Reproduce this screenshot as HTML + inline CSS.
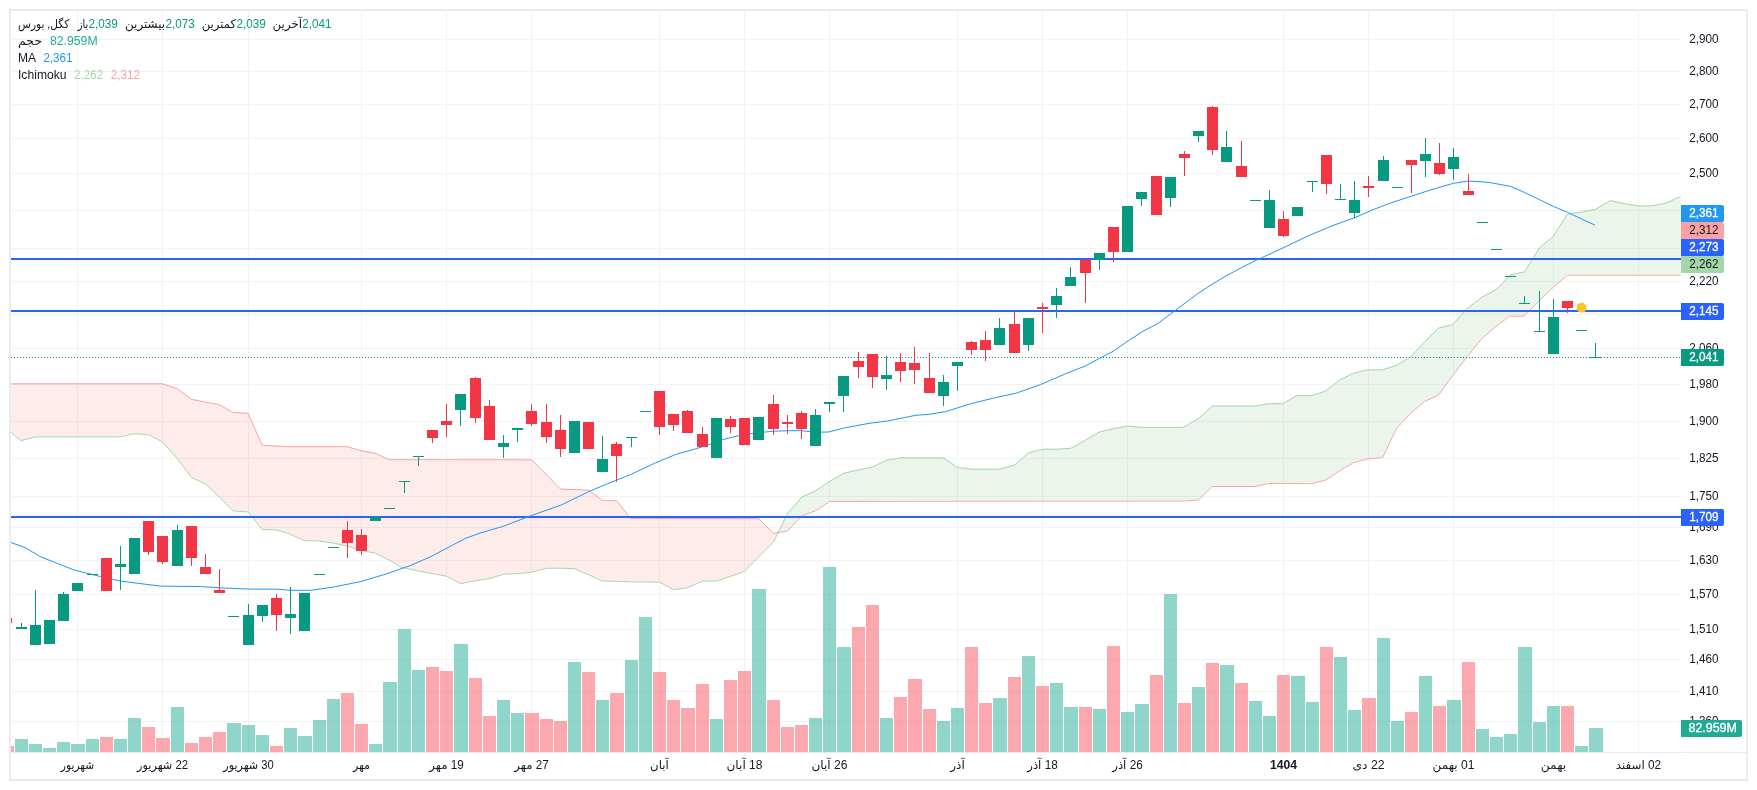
<!DOCTYPE html>
<html lang="fa"><head><meta charset="utf-8"><title>chart</title>
<style>html,body{margin:0;padding:0;background:#fff;overflow:hidden}body{width:1757px;height:790px;position:relative}</style></head>
<body>
<svg width="1757" height="790" viewBox="0 0 1757 790" style="display:block;position:absolute;left:0;top:0;will-change:transform">
<defs><clipPath id="pane"><rect x="11" y="11" width="1670" height="741"/></clipPath></defs>
<rect width="1757" height="790" fill="#fff"/>
<g shape-rendering="crispEdges" fill="#f2f3f3">
<rect x="11" y="39" width="1670" height="1"/>
<rect x="11" y="71" width="1670" height="1"/>
<rect x="11" y="104" width="1670" height="1"/>
<rect x="11" y="138" width="1670" height="1"/>
<rect x="11" y="173" width="1670" height="1"/>
<rect x="11" y="210" width="1670" height="1"/>
<rect x="11" y="248" width="1670" height="1"/>
<rect x="11" y="281" width="1670" height="1"/>
<rect x="11" y="314" width="1670" height="1"/>
<rect x="11" y="348" width="1670" height="1"/>
<rect x="11" y="384" width="1670" height="1"/>
<rect x="11" y="421" width="1670" height="1"/>
<rect x="11" y="458" width="1670" height="1"/>
<rect x="11" y="496" width="1670" height="1"/>
<rect x="11" y="527" width="1670" height="1"/>
<rect x="11" y="560" width="1670" height="1"/>
<rect x="11" y="594" width="1670" height="1"/>
<rect x="11" y="629" width="1670" height="1"/>
<rect x="11" y="659" width="1670" height="1"/>
<rect x="11" y="691" width="1670" height="1"/>
<rect x="11" y="721" width="1670" height="1"/>
<rect x="77" y="11" width="1" height="741"/>
<rect x="162" y="11" width="1" height="741"/>
<rect x="248" y="11" width="1" height="741"/>
<rect x="361" y="11" width="1" height="741"/>
<rect x="446" y="11" width="1" height="741"/>
<rect x="531" y="11" width="1" height="741"/>
<rect x="659" y="11" width="1" height="741"/>
<rect x="744" y="11" width="1" height="741"/>
<rect x="829" y="11" width="1" height="741"/>
<rect x="957" y="11" width="1" height="741"/>
<rect x="1042" y="11" width="1" height="741"/>
<rect x="1127" y="11" width="1" height="741"/>
<rect x="1283" y="11" width="1" height="741"/>
<rect x="1368" y="11" width="1" height="741"/>
<rect x="1453" y="11" width="1" height="741"/>
<rect x="1553" y="11" width="1" height="741"/>
<rect x="1638" y="11" width="1" height="741"/>
</g>
<g clip-path="url(#pane)">
<path d="M10.0,430.9 L21.0,440.2 L35.1,436.4 L120.3,436.4 L134.3,433.2 L148.4,434.2 L162.4,441.4 L177.4,458.2 L191.5,477.0 L205.5,483.3 L219.5,496.6 L233.1,510.4 L248.1,511.4 L262.2,529.1 L275.7,529.4 L288.2,533.0 L289.7,533.4 L304.3,540.2 L318.3,540.4 L332.3,542.4 L347.1,545.4 L360.9,550.0 L374.9,552.5 L389.0,559.6 L401.0,566.7 L418.0,570.5 L430.0,572.7 L446.5,575.7 L460.6,583.2 L475.6,580.2 L489.6,578.0 L503.4,573.7 L517.5,573.2 L531.5,571.7 L546.5,567.7 L560.6,567.7 L574.6,568.2 L588.6,574.2 L602.4,580.5 L616.7,580.7 L630.5,581.4 L631.5,581.5 L645.5,581.5 L659.6,581.7 L673.6,589.2 L687.6,587.2 L702.7,580.5 L716.5,580.5 L730.5,575.9 L744.5,570.9 L758.6,556.4 L773.6,541.4 L778.1,532.2 L778.1,532.2 L773.6,533.0 L758.6,518.2 L744.5,518.2 L730.5,518.1 L716.5,518.1 L702.7,518.1 L687.6,518.0 L673.6,518.0 L659.6,518.0 L645.5,517.9 L631.5,517.9 L630.5,517.9 L616.7,500.2 L602.4,499.9 L588.6,489.6 L574.6,489.1 L560.6,488.6 L546.5,474.4 L531.5,459.3 L517.5,459.3 L503.4,459.3 L489.6,459.3 L475.6,459.3 L460.6,459.3 L446.5,459.2 L430.0,459.2 L418.0,459.2 L401.0,459.2 L389.0,459.2 L374.9,452.7 L360.9,450.2 L347.1,446.2 L332.3,446.2 L318.3,446.2 L304.3,446.2 L289.7,446.2 L288.2,446.2 L275.7,445.5 L262.2,444.7 L248.1,412.9 L233.1,412.1 L219.5,404.3 L205.5,401.6 L191.5,398.8 L177.4,388.3 L162.4,383.3 L148.4,383.3 L134.3,383.3 L120.3,383.3 L35.1,383.3 L21.0,383.3 L10.0,383.3Z" fill="rgba(244,67,54,0.1)" stroke="none"/>
<path d="M778.1,532.2 L787.6,513.0 L801.7,496.6 L815.7,490.4 L829.7,480.9 L843.5,472.8 L858.6,469.4 L872.6,466.5 L886.6,459.7 L900.6,457.4 L943.5,457.4 L957.5,467.0 L971.6,468.7 L999.6,468.7 L1014.7,464.5 L1028.4,452.4 L1042.5,448.7 L1056.5,448.7 L1070.6,447.9 L1085.6,439.6 L1099.6,431.4 L1113.7,428.1 L1127.7,425.6 L1141.7,426.9 L1183.3,426.9 L1198.4,418.1 L1212.4,405.6 L1254.8,405.6 L1268.5,403.3 L1282.6,403.3 L1296.6,395.2 L1311.4,395.2 L1325.4,390.7 L1339.4,379.7 L1353.5,372.7 L1367.5,369.4 L1382.6,369.4 L1396.6,364.7 L1410.6,356.4 L1424.7,341.4 L1438.4,327.6 L1452.5,324.3 L1466.5,308.5 L1481.8,297.0 L1482.4,296.5 L1495.6,289.2 L1496.6,288.7 L1509.6,275.2 L1510.6,274.2 L1523.7,271.6 L1524.5,271.4 L1538.5,248.8 L1539.2,247.7 L1553.4,235.7 L1567.4,213.5 L1581.6,211.5 L1595.5,209.0 L1610.3,200.1 L1624.2,203.2 L1638.1,205.4 L1652.0,205.4 L1666.0,202.6 L1680.7,195.9 L1680.7,274.7 L1666.0,274.7 L1652.0,274.7 L1638.1,274.7 L1624.2,274.7 L1610.3,274.7 L1595.5,274.7 L1581.6,274.7 L1567.4,274.7 L1553.4,286.7 L1539.2,300.2 L1538.5,300.9 L1524.5,314.9 L1523.7,315.7 L1510.6,315.7 L1509.6,315.7 L1496.6,325.5 L1495.6,326.3 L1482.4,337.6 L1481.8,338.1 L1466.5,357.1 L1452.5,375.2 L1438.4,394.7 L1424.7,400.8 L1410.6,412.8 L1396.6,427.8 L1382.6,457.1 L1367.5,458.4 L1353.5,462.2 L1339.4,470.4 L1325.4,479.7 L1311.4,483.2 L1296.6,483.1 L1282.6,483.1 L1268.5,483.0 L1254.8,486.0 L1212.4,486.0 L1198.4,499.5 L1183.3,500.5 L1141.7,500.5 L1127.7,500.6 L1113.7,500.6 L1099.6,500.6 L1085.6,500.6 L1070.6,500.6 L1056.5,500.6 L1042.5,500.7 L1028.4,500.7 L1014.7,500.7 L999.6,500.7 L971.6,500.7 L957.5,500.8 L943.5,500.8 L900.6,500.8 L886.6,500.8 L872.6,500.9 L858.6,500.9 L843.5,500.9 L829.7,500.9 L815.7,510.2 L801.7,515.4 L787.6,530.5 L778.1,532.2Z" fill="rgba(67,160,71,0.1)" stroke="none"/>
<polyline points="10.0,431.4 21.0,440.7 35.1,436.9 120.3,436.9 134.3,433.7 148.4,434.7 162.4,441.9 177.4,458.7 191.5,477.5 205.5,483.8 219.5,497.1 233.1,510.9 248.1,511.9 262.2,529.6 275.7,529.9 289.7,533.9 304.3,540.7 318.3,540.9 332.3,542.9 347.1,545.9 360.9,550.5 374.9,553.0 389.0,560.1 401.0,567.2 418.0,571.0 430.0,573.2 446.5,576.2 460.6,583.7 475.6,580.7 489.6,578.5 503.4,574.2 517.5,573.7 531.5,572.2 546.5,568.2 560.6,568.2 574.6,568.7 588.6,574.7 602.4,581.0 616.7,581.2 631.5,582.0 645.5,582.0 659.6,582.2 673.6,589.7 687.6,587.7 702.7,581.0 716.5,581.0 730.5,576.4 744.5,571.4 758.6,556.9 773.6,541.9 787.6,513.5 801.7,497.1 815.7,490.9 829.7,481.4 843.5,473.3 858.6,469.9 872.6,467.0 886.6,460.2 900.6,457.9 943.5,457.9 957.5,467.5 971.6,469.2 999.6,469.2 1014.7,465.0 1028.4,452.9 1042.5,449.2 1056.5,449.2 1070.6,448.4 1085.6,440.1 1099.6,431.9 1113.7,428.6 1127.7,426.1 1141.7,427.4 1183.3,427.4 1198.4,418.6 1212.4,406.1 1254.8,406.1 1268.5,403.8 1282.6,403.8 1296.6,395.7 1311.4,395.7 1325.4,391.2 1339.4,380.2 1353.5,373.2 1367.5,369.9 1382.6,369.9 1396.6,365.2 1410.6,356.9 1424.7,341.9 1438.4,328.1 1452.5,324.8 1466.5,309.0 1482.4,297.0 1496.6,289.2 1510.6,274.7 1524.5,271.9 1539.2,248.2 1553.4,236.2 1567.4,214.0 1581.6,212.0 1595.5,209.5 1610.3,200.6 1624.2,203.7 1638.1,205.9 1652.0,205.9 1666.0,203.1 1680.7,196.4" fill="none" stroke="#a5d6a7" stroke-width="1" stroke-linejoin="round"/>
<polyline points="10.0,383.8 162.4,383.8 177.4,388.8 191.5,399.3 205.5,402.1 219.5,404.8 233.1,412.6 248.1,413.4 262.2,445.2 288.2,446.7 347.1,446.7 360.9,450.7 374.9,453.2 389.0,459.7 531.5,459.8 560.6,489.1 588.6,490.1 602.4,500.4 616.7,500.7 630.5,518.4 758.6,518.7 773.6,533.5 787.6,531.0 801.7,515.9 815.7,510.7 829.7,501.4 1183.3,501.0 1198.4,500.0 1212.4,486.5 1254.8,486.5 1268.5,483.5 1311.4,483.7 1325.4,480.2 1339.4,470.9 1353.5,462.7 1367.5,458.9 1382.6,457.6 1396.6,428.3 1410.6,413.3 1424.7,401.3 1438.4,395.2 1452.5,375.7 1466.5,357.6 1481.8,338.6 1495.6,326.8 1509.6,316.2 1523.7,316.2 1538.5,301.4 1553.4,287.2 1567.4,275.2 1680.7,275.2" fill="none" stroke="#f7a5a8" stroke-width="1" stroke-linejoin="round"/>
<g shape-rendering="crispEdges">
<rect x="0" y="746" width="14" height="6" fill="rgba(247,82,95,0.5)"/>
<rect x="15" y="739" width="13" height="13" fill="rgba(34,171,148,0.5)"/>
<rect x="29" y="744" width="13" height="8" fill="rgba(34,171,148,0.5)"/>
<rect x="43" y="748" width="13" height="4" fill="rgba(34,171,148,0.5)"/>
<rect x="57" y="742" width="13" height="10" fill="rgba(34,171,148,0.5)"/>
<rect x="71" y="744" width="14" height="8" fill="rgba(34,171,148,0.5)"/>
<rect x="86" y="739" width="13" height="13" fill="rgba(34,171,148,0.5)"/>
<rect x="100" y="737" width="13" height="15" fill="rgba(247,82,95,0.5)"/>
<rect x="114" y="739" width="13" height="13" fill="rgba(34,171,148,0.5)"/>
<rect x="128" y="718" width="13" height="34" fill="rgba(34,171,148,0.5)"/>
<rect x="142" y="727" width="13" height="25" fill="rgba(247,82,95,0.5)"/>
<rect x="156" y="738" width="14" height="14" fill="rgba(247,82,95,0.5)"/>
<rect x="171" y="707" width="13" height="45" fill="rgba(34,171,148,0.5)"/>
<rect x="185" y="743" width="13" height="9" fill="rgba(247,82,95,0.5)"/>
<rect x="199" y="737" width="13" height="15" fill="rgba(247,82,95,0.5)"/>
<rect x="213" y="732" width="13" height="20" fill="rgba(247,82,95,0.5)"/>
<rect x="227" y="723" width="14" height="29" fill="rgba(34,171,148,0.5)"/>
<rect x="242" y="725" width="13" height="27" fill="rgba(34,171,148,0.5)"/>
<rect x="256" y="735" width="13" height="17" fill="rgba(34,171,148,0.5)"/>
<rect x="270" y="746" width="13" height="6" fill="rgba(247,82,95,0.5)"/>
<rect x="284" y="728" width="13" height="24" fill="rgba(34,171,148,0.5)"/>
<rect x="298" y="736" width="14" height="16" fill="rgba(34,171,148,0.5)"/>
<rect x="313" y="720" width="13" height="32" fill="rgba(34,171,148,0.5)"/>
<rect x="327" y="699" width="13" height="53" fill="rgba(34,171,148,0.5)"/>
<rect x="341" y="693" width="13" height="59" fill="rgba(247,82,95,0.5)"/>
<rect x="355" y="724" width="13" height="28" fill="rgba(247,82,95,0.5)"/>
<rect x="369" y="744" width="13" height="8" fill="rgba(34,171,148,0.5)"/>
<rect x="383" y="682" width="14" height="70" fill="rgba(34,171,148,0.5)"/>
<rect x="398" y="629" width="13" height="123" fill="rgba(34,171,148,0.5)"/>
<rect x="412" y="670" width="13" height="82" fill="rgba(34,171,148,0.5)"/>
<rect x="426" y="667" width="13" height="85" fill="rgba(247,82,95,0.5)"/>
<rect x="440" y="671" width="13" height="81" fill="rgba(247,82,95,0.5)"/>
<rect x="454" y="644" width="14" height="108" fill="rgba(34,171,148,0.5)"/>
<rect x="469" y="678" width="13" height="74" fill="rgba(247,82,95,0.5)"/>
<rect x="483" y="716" width="13" height="36" fill="rgba(247,82,95,0.5)"/>
<rect x="497" y="700" width="13" height="52" fill="rgba(34,171,148,0.5)"/>
<rect x="511" y="713" width="13" height="39" fill="rgba(34,171,148,0.5)"/>
<rect x="525" y="713" width="14" height="39" fill="rgba(247,82,95,0.5)"/>
<rect x="540" y="719" width="13" height="33" fill="rgba(247,82,95,0.5)"/>
<rect x="554" y="721" width="13" height="31" fill="rgba(247,82,95,0.5)"/>
<rect x="568" y="662" width="13" height="90" fill="rgba(34,171,148,0.5)"/>
<rect x="582" y="672" width="13" height="80" fill="rgba(247,82,95,0.5)"/>
<rect x="596" y="700" width="13" height="52" fill="rgba(34,171,148,0.5)"/>
<rect x="610" y="693" width="14" height="59" fill="rgba(247,82,95,0.5)"/>
<rect x="625" y="660" width="13" height="92" fill="rgba(34,171,148,0.5)"/>
<rect x="639" y="617" width="13" height="135" fill="rgba(34,171,148,0.5)"/>
<rect x="653" y="672" width="13" height="80" fill="rgba(247,82,95,0.5)"/>
<rect x="667" y="700" width="13" height="52" fill="rgba(247,82,95,0.5)"/>
<rect x="681" y="708" width="14" height="44" fill="rgba(247,82,95,0.5)"/>
<rect x="696" y="684" width="13" height="68" fill="rgba(247,82,95,0.5)"/>
<rect x="710" y="719" width="13" height="33" fill="rgba(34,171,148,0.5)"/>
<rect x="724" y="680" width="13" height="72" fill="rgba(247,82,95,0.5)"/>
<rect x="738" y="671" width="13" height="81" fill="rgba(247,82,95,0.5)"/>
<rect x="752" y="589" width="14" height="163" fill="rgba(34,171,148,0.5)"/>
<rect x="767" y="700" width="13" height="52" fill="rgba(247,82,95,0.5)"/>
<rect x="781" y="727" width="13" height="25" fill="rgba(247,82,95,0.5)"/>
<rect x="795" y="725" width="13" height="27" fill="rgba(247,82,95,0.5)"/>
<rect x="809" y="718" width="13" height="34" fill="rgba(34,171,148,0.5)"/>
<rect x="823" y="567" width="13" height="185" fill="rgba(34,171,148,0.5)"/>
<rect x="837" y="647" width="14" height="105" fill="rgba(34,171,148,0.5)"/>
<rect x="852" y="627" width="13" height="125" fill="rgba(247,82,95,0.5)"/>
<rect x="866" y="605" width="13" height="147" fill="rgba(247,82,95,0.5)"/>
<rect x="880" y="718" width="13" height="34" fill="rgba(34,171,148,0.5)"/>
<rect x="894" y="697" width="13" height="55" fill="rgba(247,82,95,0.5)"/>
<rect x="908" y="679" width="14" height="73" fill="rgba(247,82,95,0.5)"/>
<rect x="923" y="709" width="13" height="43" fill="rgba(247,82,95,0.5)"/>
<rect x="937" y="721" width="13" height="31" fill="rgba(34,171,148,0.5)"/>
<rect x="951" y="708" width="13" height="44" fill="rgba(34,171,148,0.5)"/>
<rect x="965" y="647" width="13" height="105" fill="rgba(247,82,95,0.5)"/>
<rect x="979" y="703" width="13" height="49" fill="rgba(247,82,95,0.5)"/>
<rect x="993" y="698" width="14" height="54" fill="rgba(34,171,148,0.5)"/>
<rect x="1008" y="677" width="13" height="75" fill="rgba(247,82,95,0.5)"/>
<rect x="1022" y="656" width="13" height="96" fill="rgba(34,171,148,0.5)"/>
<rect x="1036" y="686" width="13" height="66" fill="rgba(247,82,95,0.5)"/>
<rect x="1050" y="683" width="13" height="69" fill="rgba(34,171,148,0.5)"/>
<rect x="1064" y="707" width="14" height="45" fill="rgba(34,171,148,0.5)"/>
<rect x="1079" y="707" width="13" height="45" fill="rgba(247,82,95,0.5)"/>
<rect x="1093" y="709" width="13" height="43" fill="rgba(34,171,148,0.5)"/>
<rect x="1107" y="646" width="13" height="106" fill="rgba(247,82,95,0.5)"/>
<rect x="1121" y="712" width="13" height="40" fill="rgba(34,171,148,0.5)"/>
<rect x="1135" y="704" width="14" height="48" fill="rgba(34,171,148,0.5)"/>
<rect x="1150" y="675" width="13" height="77" fill="rgba(247,82,95,0.5)"/>
<rect x="1164" y="594" width="13" height="158" fill="rgba(34,171,148,0.5)"/>
<rect x="1178" y="703" width="13" height="49" fill="rgba(247,82,95,0.5)"/>
<rect x="1192" y="687" width="13" height="65" fill="rgba(34,171,148,0.5)"/>
<rect x="1206" y="663" width="13" height="89" fill="rgba(247,82,95,0.5)"/>
<rect x="1220" y="665" width="14" height="87" fill="rgba(34,171,148,0.5)"/>
<rect x="1235" y="683" width="13" height="69" fill="rgba(247,82,95,0.5)"/>
<rect x="1249" y="701" width="13" height="51" fill="rgba(34,171,148,0.5)"/>
<rect x="1263" y="716" width="13" height="36" fill="rgba(34,171,148,0.5)"/>
<rect x="1277" y="675" width="13" height="77" fill="rgba(247,82,95,0.5)"/>
<rect x="1291" y="676" width="14" height="76" fill="rgba(34,171,148,0.5)"/>
<rect x="1306" y="702" width="13" height="50" fill="rgba(34,171,148,0.5)"/>
<rect x="1320" y="647" width="13" height="105" fill="rgba(247,82,95,0.5)"/>
<rect x="1334" y="657" width="13" height="95" fill="rgba(34,171,148,0.5)"/>
<rect x="1348" y="710" width="13" height="42" fill="rgba(34,171,148,0.5)"/>
<rect x="1362" y="698" width="14" height="54" fill="rgba(247,82,95,0.5)"/>
<rect x="1377" y="638" width="13" height="114" fill="rgba(34,171,148,0.5)"/>
<rect x="1391" y="721" width="13" height="31" fill="rgba(34,171,148,0.5)"/>
<rect x="1405" y="712" width="13" height="40" fill="rgba(247,82,95,0.5)"/>
<rect x="1419" y="676" width="13" height="76" fill="rgba(34,171,148,0.5)"/>
<rect x="1433" y="706" width="13" height="46" fill="rgba(247,82,95,0.5)"/>
<rect x="1447" y="700" width="14" height="52" fill="rgba(34,171,148,0.5)"/>
<rect x="1462" y="662" width="13" height="90" fill="rgba(247,82,95,0.5)"/>
<rect x="1476" y="729" width="13" height="23" fill="rgba(34,171,148,0.5)"/>
<rect x="1490" y="737" width="13" height="15" fill="rgba(34,171,148,0.5)"/>
<rect x="1504" y="734" width="13" height="18" fill="rgba(34,171,148,0.5)"/>
<rect x="1518" y="647" width="14" height="105" fill="rgba(34,171,148,0.5)"/>
<rect x="1533" y="722" width="13" height="30" fill="rgba(34,171,148,0.5)"/>
<rect x="1547" y="706" width="13" height="46" fill="rgba(34,171,148,0.5)"/>
<rect x="1561" y="706" width="13" height="46" fill="rgba(247,82,95,0.5)"/>
<rect x="1575" y="746" width="13" height="6" fill="rgba(34,171,148,0.5)"/>
<rect x="1589" y="728" width="14" height="24" fill="rgba(34,171,148,0.5)"/>
</g>
<g shape-rendering="crispEdges" fill="#2962ff">
<rect x="11" y="258" width="1670" height="2"/>
<rect x="11" y="310" width="1670" height="2"/>
<rect x="11" y="516" width="1670" height="2"/>
</g>
<polyline points="10.0,542.2 25.0,547.5 40.0,556.5 70.2,568.5 75.2,570.3 100.3,576.5 120.3,581.1 160.4,586.1 200.5,586.6 225.6,588.1 250.6,589.1 275.7,589.1 290.7,590.3 310.8,590.3 333.3,587.1 360.9,581.5 386.0,574.0 411.0,565.3 431.0,556.5 465.1,538.5 480.1,533.0 502.7,526.5 530.3,515.9 560.3,505.4 590.4,490.9 605.4,484.6 630.5,474.6 655.6,462.8 675.6,454.5 695.7,448.8 705.7,445.8 723.2,439.5 738.3,435.7 753.3,433.2 773.4,431.2 788.4,430.7 800.9,430.7 816.0,432.2 828.5,432.0 843.5,428.2 856.1,425.7 870.0,423.2 887.6,421.0 915.2,415.4 930.2,414.2 945.2,411.7 970.3,403.9 995.4,397.6 1015.4,393.4 1040.5,384.6 1065.5,373.8 1085.6,365.8 1100.6,357.8 1113.2,351.3 1128.2,340.8 1143.2,331.2 1158.3,323.2 1173.3,311.9 1198.4,293.1 1212.0,284.3 1225.9,276.0 1240.5,268.1 1258.0,259.4 1283.1,247.9 1308.1,235.9 1333.2,225.4 1354.5,217.8 1373.3,209.6 1388.3,203.8 1410.9,196.3 1431.0,189.8 1453.5,183.3 1468.5,181.0 1481.1,181.8 1489.1,182.4 1510.6,186.4 1524.5,192.5 1539.2,199.5 1553.4,206.4 1567.4,212.3 1581.6,219.0 1594.9,225.1" fill="none" stroke="#2196f3" stroke-width="1" stroke-linejoin="round"/>
<line x1="11" y1="357.5" x2="1681" y2="357.5" stroke="#089981" stroke-width="1" stroke-dasharray="1 2" shape-rendering="crispEdges"/>
<g shape-rendering="crispEdges">
<rect x="1" y="618" width="11" height="5" fill="#f23645"/>
<rect x="21" y="623" width="1" height="6" fill="#089981"/>
<rect x="16" y="627" width="11" height="2" fill="#089981"/>
<rect x="35" y="590" width="1" height="55" fill="#089981"/>
<rect x="30" y="625" width="11" height="20" fill="#089981"/>
<rect x="44" y="620" width="11" height="24" fill="#089981"/>
<rect x="63" y="592" width="1" height="29" fill="#089981"/>
<rect x="58" y="594" width="11" height="27" fill="#089981"/>
<rect x="72" y="583" width="11" height="8" fill="#089981"/>
<rect x="87" y="574" width="11" height="1" fill="#089981"/>
<rect x="101" y="558" width="11" height="33" fill="#f23645"/>
<rect x="120" y="546" width="1" height="44" fill="#089981"/>
<rect x="115" y="564" width="11" height="3" fill="#089981"/>
<rect x="129" y="538" width="11" height="36" fill="#089981"/>
<rect x="148" y="521" width="1" height="34" fill="#f23645"/>
<rect x="143" y="521" width="11" height="31" fill="#f23645"/>
<rect x="162" y="536" width="1" height="28" fill="#f23645"/>
<rect x="157" y="536" width="11" height="26" fill="#f23645"/>
<rect x="177" y="525" width="1" height="41" fill="#089981"/>
<rect x="172" y="530" width="11" height="36" fill="#089981"/>
<rect x="191" y="526" width="1" height="40" fill="#f23645"/>
<rect x="186" y="526" width="11" height="32" fill="#f23645"/>
<rect x="205" y="554" width="1" height="20" fill="#f23645"/>
<rect x="200" y="567" width="11" height="7" fill="#f23645"/>
<rect x="219" y="569" width="1" height="24" fill="#f23645"/>
<rect x="214" y="590" width="11" height="3" fill="#f23645"/>
<rect x="228" y="616" width="11" height="1" fill="#089981"/>
<rect x="248" y="604" width="1" height="41" fill="#089981"/>
<rect x="243" y="615" width="11" height="30" fill="#089981"/>
<rect x="262" y="605" width="1" height="17" fill="#089981"/>
<rect x="257" y="605" width="11" height="11" fill="#089981"/>
<rect x="276" y="594" width="1" height="37" fill="#f23645"/>
<rect x="271" y="598" width="11" height="17" fill="#f23645"/>
<rect x="290" y="587" width="1" height="47" fill="#089981"/>
<rect x="285" y="614" width="11" height="4" fill="#089981"/>
<rect x="299" y="593" width="11" height="38" fill="#089981"/>
<rect x="314" y="574" width="11" height="1" fill="#089981"/>
<rect x="328" y="547" width="11" height="1" fill="#089981"/>
<rect x="347" y="521" width="1" height="37" fill="#f23645"/>
<rect x="342" y="530" width="11" height="13" fill="#f23645"/>
<rect x="361" y="529" width="1" height="26" fill="#f23645"/>
<rect x="356" y="535" width="11" height="16" fill="#f23645"/>
<rect x="370" y="517" width="11" height="4" fill="#089981"/>
<rect x="384" y="508" width="11" height="1" fill="#089981"/>
<rect x="404" y="481" width="1" height="12" fill="#089981"/>
<rect x="399" y="481" width="11" height="1" fill="#089981"/>
<rect x="418" y="456" width="1" height="10" fill="#089981"/>
<rect x="413" y="456" width="11" height="1" fill="#089981"/>
<rect x="432" y="430" width="1" height="13" fill="#f23645"/>
<rect x="427" y="430" width="11" height="8" fill="#f23645"/>
<rect x="446" y="404" width="1" height="33" fill="#f23645"/>
<rect x="441" y="421" width="11" height="4" fill="#f23645"/>
<rect x="460" y="394" width="1" height="32" fill="#089981"/>
<rect x="455" y="394" width="11" height="16" fill="#089981"/>
<rect x="475" y="377" width="1" height="46" fill="#f23645"/>
<rect x="470" y="378" width="11" height="40" fill="#f23645"/>
<rect x="489" y="400" width="1" height="40" fill="#f23645"/>
<rect x="484" y="406" width="11" height="34" fill="#f23645"/>
<rect x="503" y="435" width="1" height="23" fill="#089981"/>
<rect x="498" y="443" width="11" height="4" fill="#089981"/>
<rect x="517" y="428" width="1" height="14" fill="#089981"/>
<rect x="512" y="428" width="11" height="2" fill="#089981"/>
<rect x="531" y="404" width="1" height="22" fill="#f23645"/>
<rect x="526" y="411" width="11" height="13" fill="#f23645"/>
<rect x="546" y="404" width="1" height="39" fill="#f23645"/>
<rect x="541" y="422" width="11" height="15" fill="#f23645"/>
<rect x="560" y="415" width="1" height="42" fill="#f23645"/>
<rect x="555" y="430" width="11" height="19" fill="#f23645"/>
<rect x="569" y="421" width="11" height="32" fill="#089981"/>
<rect x="583" y="422" width="11" height="27" fill="#f23645"/>
<rect x="602" y="436" width="1" height="36" fill="#089981"/>
<rect x="597" y="459" width="11" height="13" fill="#089981"/>
<rect x="616" y="442" width="1" height="40" fill="#f23645"/>
<rect x="611" y="444" width="11" height="12" fill="#f23645"/>
<rect x="631" y="437" width="1" height="10" fill="#089981"/>
<rect x="626" y="437" width="11" height="1" fill="#089981"/>
<rect x="640" y="411" width="11" height="1" fill="#089981"/>
<rect x="659" y="391" width="1" height="44" fill="#f23645"/>
<rect x="654" y="391" width="11" height="36" fill="#f23645"/>
<rect x="673" y="414" width="1" height="17" fill="#f23645"/>
<rect x="668" y="414" width="11" height="11" fill="#f23645"/>
<rect x="687" y="410" width="1" height="23" fill="#f23645"/>
<rect x="682" y="411" width="11" height="22" fill="#f23645"/>
<rect x="702" y="427" width="1" height="20" fill="#f23645"/>
<rect x="697" y="434" width="11" height="13" fill="#f23645"/>
<rect x="711" y="418" width="11" height="40" fill="#089981"/>
<rect x="730" y="416" width="1" height="17" fill="#f23645"/>
<rect x="725" y="419" width="11" height="8" fill="#f23645"/>
<rect x="739" y="418" width="11" height="27" fill="#f23645"/>
<rect x="753" y="417" width="11" height="23" fill="#089981"/>
<rect x="773" y="395" width="1" height="40" fill="#f23645"/>
<rect x="768" y="404" width="11" height="25" fill="#f23645"/>
<rect x="787" y="415" width="1" height="19" fill="#f23645"/>
<rect x="782" y="422" width="11" height="2" fill="#f23645"/>
<rect x="801" y="411" width="1" height="28" fill="#f23645"/>
<rect x="796" y="413" width="11" height="16" fill="#f23645"/>
<rect x="815" y="409" width="1" height="37" fill="#089981"/>
<rect x="810" y="415" width="11" height="31" fill="#089981"/>
<rect x="829" y="402" width="1" height="10" fill="#089981"/>
<rect x="824" y="402" width="11" height="2" fill="#089981"/>
<rect x="843" y="376" width="1" height="36" fill="#089981"/>
<rect x="838" y="376" width="11" height="20" fill="#089981"/>
<rect x="858" y="352" width="1" height="26" fill="#f23645"/>
<rect x="853" y="361" width="11" height="6" fill="#f23645"/>
<rect x="872" y="354" width="1" height="34" fill="#f23645"/>
<rect x="867" y="354" width="11" height="23" fill="#f23645"/>
<rect x="886" y="356" width="1" height="34" fill="#089981"/>
<rect x="881" y="375" width="11" height="4" fill="#089981"/>
<rect x="900" y="353" width="1" height="29" fill="#f23645"/>
<rect x="895" y="362" width="11" height="9" fill="#f23645"/>
<rect x="914" y="347" width="1" height="37" fill="#f23645"/>
<rect x="909" y="363" width="11" height="7" fill="#f23645"/>
<rect x="929" y="353" width="1" height="40" fill="#f23645"/>
<rect x="924" y="378" width="11" height="15" fill="#f23645"/>
<rect x="943" y="375" width="1" height="31" fill="#089981"/>
<rect x="938" y="382" width="11" height="14" fill="#089981"/>
<rect x="957" y="362" width="1" height="29" fill="#089981"/>
<rect x="952" y="362" width="11" height="4" fill="#089981"/>
<rect x="971" y="341" width="1" height="14" fill="#f23645"/>
<rect x="966" y="342" width="11" height="8" fill="#f23645"/>
<rect x="985" y="331" width="1" height="30" fill="#f23645"/>
<rect x="980" y="340" width="11" height="10" fill="#f23645"/>
<rect x="999" y="318" width="1" height="27" fill="#089981"/>
<rect x="994" y="328" width="11" height="17" fill="#089981"/>
<rect x="1014" y="312" width="1" height="41" fill="#f23645"/>
<rect x="1009" y="324" width="11" height="29" fill="#f23645"/>
<rect x="1028" y="318" width="1" height="33" fill="#089981"/>
<rect x="1023" y="318" width="11" height="27" fill="#089981"/>
<rect x="1042" y="303" width="1" height="30" fill="#f23645"/>
<rect x="1037" y="307" width="11" height="2" fill="#f23645"/>
<rect x="1056" y="288" width="1" height="30" fill="#089981"/>
<rect x="1051" y="296" width="11" height="9" fill="#089981"/>
<rect x="1070" y="267" width="1" height="19" fill="#089981"/>
<rect x="1065" y="277" width="11" height="9" fill="#089981"/>
<rect x="1085" y="258" width="1" height="45" fill="#f23645"/>
<rect x="1080" y="260" width="11" height="13" fill="#f23645"/>
<rect x="1099" y="253" width="1" height="17" fill="#089981"/>
<rect x="1094" y="253" width="11" height="7" fill="#089981"/>
<rect x="1113" y="227" width="1" height="35" fill="#f23645"/>
<rect x="1108" y="227" width="11" height="25" fill="#f23645"/>
<rect x="1122" y="206" width="11" height="46" fill="#089981"/>
<rect x="1141" y="192" width="1" height="14" fill="#089981"/>
<rect x="1136" y="192" width="11" height="7" fill="#089981"/>
<rect x="1151" y="176" width="11" height="39" fill="#f23645"/>
<rect x="1170" y="177" width="1" height="30" fill="#089981"/>
<rect x="1165" y="177" width="11" height="21" fill="#089981"/>
<rect x="1184" y="151" width="1" height="25" fill="#f23645"/>
<rect x="1179" y="154" width="11" height="4" fill="#f23645"/>
<rect x="1198" y="131" width="1" height="11" fill="#089981"/>
<rect x="1193" y="131" width="11" height="5" fill="#089981"/>
<rect x="1212" y="106" width="1" height="49" fill="#f23645"/>
<rect x="1207" y="107" width="11" height="43" fill="#f23645"/>
<rect x="1226" y="131" width="1" height="31" fill="#089981"/>
<rect x="1221" y="147" width="11" height="15" fill="#089981"/>
<rect x="1241" y="141" width="1" height="36" fill="#f23645"/>
<rect x="1236" y="166" width="11" height="11" fill="#f23645"/>
<rect x="1250" y="200" width="11" height="1" fill="#089981"/>
<rect x="1269" y="190" width="1" height="38" fill="#089981"/>
<rect x="1264" y="200" width="11" height="28" fill="#089981"/>
<rect x="1283" y="211" width="1" height="26" fill="#f23645"/>
<rect x="1278" y="219" width="11" height="17" fill="#f23645"/>
<rect x="1292" y="207" width="11" height="9" fill="#089981"/>
<rect x="1312" y="181" width="1" height="11" fill="#089981"/>
<rect x="1307" y="181" width="11" height="1" fill="#089981"/>
<rect x="1326" y="155" width="1" height="39" fill="#f23645"/>
<rect x="1321" y="155" width="11" height="29" fill="#f23645"/>
<rect x="1340" y="184" width="1" height="16" fill="#089981"/>
<rect x="1335" y="199" width="11" height="1" fill="#089981"/>
<rect x="1354" y="181" width="1" height="37" fill="#089981"/>
<rect x="1349" y="200" width="11" height="13" fill="#089981"/>
<rect x="1368" y="176" width="1" height="21" fill="#f23645"/>
<rect x="1363" y="186" width="11" height="2" fill="#f23645"/>
<rect x="1383" y="156" width="1" height="25" fill="#089981"/>
<rect x="1378" y="160" width="11" height="21" fill="#089981"/>
<rect x="1392" y="187" width="11" height="1" fill="#089981"/>
<rect x="1411" y="160" width="1" height="33" fill="#f23645"/>
<rect x="1406" y="160" width="11" height="5" fill="#f23645"/>
<rect x="1425" y="138" width="1" height="39" fill="#089981"/>
<rect x="1420" y="154" width="11" height="7" fill="#089981"/>
<rect x="1439" y="143" width="1" height="32" fill="#f23645"/>
<rect x="1434" y="163" width="11" height="11" fill="#f23645"/>
<rect x="1453" y="148" width="1" height="32" fill="#089981"/>
<rect x="1448" y="157" width="11" height="12" fill="#089981"/>
<rect x="1468" y="174" width="1" height="21" fill="#f23645"/>
<rect x="1463" y="191" width="11" height="4" fill="#f23645"/>
<rect x="1477" y="222" width="11" height="1" fill="#089981"/>
<rect x="1491" y="249" width="11" height="1" fill="#089981"/>
<rect x="1505" y="276" width="11" height="1" fill="#089981"/>
<rect x="1524" y="296" width="1" height="8" fill="#089981"/>
<rect x="1519" y="303" width="11" height="1" fill="#089981"/>
<rect x="1539" y="291" width="1" height="41" fill="#089981"/>
<rect x="1534" y="331" width="11" height="1" fill="#089981"/>
<rect x="1553" y="299" width="1" height="55" fill="#089981"/>
<rect x="1548" y="317" width="11" height="37" fill="#089981"/>
<rect x="1567" y="301" width="1" height="12" fill="#f23645"/>
<rect x="1562" y="301" width="11" height="7" fill="#f23645"/>
<rect x="1576" y="330" width="11" height="1" fill="#089981"/>
<rect x="1595" y="343" width="1" height="15" fill="#089981"/>
<rect x="1590" y="357" width="11" height="1" fill="#089981"/>
</g>
<circle cx="1581.6" cy="307.7" r="5" fill="#f7c821"/>
</g>
<g fill="#e4e7ef">
<rect x="9.2" y="9.2" width="1738.5" height="1.6"/>
<rect x="9.2" y="779.2" width="1738.5" height="1.7"/>
<rect x="9.2" y="9.2" width="1.6" height="771.7"/>
<rect x="1746.2" y="9.2" width="1.5" height="771.7"/>
</g>
<g shape-rendering="crispEdges" fill="#e8eaf1">
<rect x="11" y="752" width="1670" height="1"/>
<rect x="1682" y="752" width="64" height="1"/>
</g>
<g font-family="Liberation Sans, DejaVu Sans, sans-serif" font-size="12" fill="#131722">
<text x="1689.2" y="42.6" textLength="29.2" lengthAdjust="spacingAndGlyphs">2,900</text>
<text x="1689.2" y="74.6" textLength="29.2" lengthAdjust="spacingAndGlyphs">2,800</text>
<text x="1689.2" y="107.6" textLength="29.2" lengthAdjust="spacingAndGlyphs">2,700</text>
<text x="1689.2" y="141.6" textLength="29.2" lengthAdjust="spacingAndGlyphs">2,600</text>
<text x="1689.2" y="176.6" textLength="29.2" lengthAdjust="spacingAndGlyphs">2,500</text>
<text x="1689.2" y="213.6" textLength="29.2" lengthAdjust="spacingAndGlyphs">2,400</text>
<text x="1689.2" y="251.6" textLength="29.2" lengthAdjust="spacingAndGlyphs">2,300</text>
<text x="1689.2" y="284.6" textLength="29.2" lengthAdjust="spacingAndGlyphs">2,220</text>
<text x="1689.2" y="317.6" textLength="29.2" lengthAdjust="spacingAndGlyphs">2,140</text>
<text x="1689.2" y="351.6" textLength="29.2" lengthAdjust="spacingAndGlyphs">2,060</text>
<text x="1689.2" y="387.6" textLength="29.2" lengthAdjust="spacingAndGlyphs">1,980</text>
<text x="1689.2" y="424.6" textLength="29.2" lengthAdjust="spacingAndGlyphs">1,900</text>
<text x="1689.2" y="461.6" textLength="29.2" lengthAdjust="spacingAndGlyphs">1,825</text>
<text x="1689.2" y="499.6" textLength="29.2" lengthAdjust="spacingAndGlyphs">1,750</text>
<text x="1689.2" y="530.6" textLength="29.2" lengthAdjust="spacingAndGlyphs">1,690</text>
<text x="1689.2" y="563.6" textLength="29.2" lengthAdjust="spacingAndGlyphs">1,630</text>
<text x="1689.2" y="597.6" textLength="29.2" lengthAdjust="spacingAndGlyphs">1,570</text>
<text x="1689.2" y="632.6" textLength="29.2" lengthAdjust="spacingAndGlyphs">1,510</text>
<text x="1689.2" y="662.6" textLength="29.2" lengthAdjust="spacingAndGlyphs">1,460</text>
<text x="1689.2" y="694.6" textLength="29.2" lengthAdjust="spacingAndGlyphs">1,410</text>
<text x="1689.2" y="724.6" textLength="29.2" lengthAdjust="spacingAndGlyphs">1,360</text>
</g>
<path d="M1681,205.0h41a2,2 0 0 1 2,2v13a2,2 0 0 1 -2,2h-41z" fill="#2196f3"/>
<text x="1689.2" y="217.3" font-family="Liberation Sans, DejaVu Sans, sans-serif" font-size="12" fill="#fff" stroke="#fff" stroke-width="0.3" textLength="29.2" lengthAdjust="spacingAndGlyphs">2,361</text>
<path d="M1681,222.0h41a2,2 0 0 1 2,2v13a2,2 0 0 1 -2,2h-41z" fill="#faa1a4"/>
<text x="1689.2" y="234.3" font-family="Liberation Sans, DejaVu Sans, sans-serif" font-size="12" fill="#131722" textLength="29.2" lengthAdjust="spacingAndGlyphs">2,312</text>
<path d="M1681,239.0h41a2,2 0 0 1 2,2v13a2,2 0 0 1 -2,2h-41z" fill="#2962ff"/>
<text x="1689.2" y="251.3" font-family="Liberation Sans, DejaVu Sans, sans-serif" font-size="12" fill="#fff" stroke="#fff" stroke-width="0.3" textLength="29.2" lengthAdjust="spacingAndGlyphs">2,273</text>
<path d="M1681,256.0h41a2,2 0 0 1 2,2v13a2,2 0 0 1 -2,2h-41z" fill="#a5d6a7"/>
<text x="1689.2" y="268.3" font-family="Liberation Sans, DejaVu Sans, sans-serif" font-size="12" fill="#131722" textLength="29.2" lengthAdjust="spacingAndGlyphs">2,262</text>
<path d="M1681,303.0h41a2,2 0 0 1 2,2v13a2,2 0 0 1 -2,2h-41z" fill="#2962ff"/>
<text x="1689.2" y="315.3" font-family="Liberation Sans, DejaVu Sans, sans-serif" font-size="12" fill="#fff" stroke="#fff" stroke-width="0.3" textLength="29.2" lengthAdjust="spacingAndGlyphs">2,145</text>
<path d="M1681,349.0h41a2,2 0 0 1 2,2v13a2,2 0 0 1 -2,2h-41z" fill="#089981"/>
<text x="1689.2" y="361.3" font-family="Liberation Sans, DejaVu Sans, sans-serif" font-size="12" fill="#fff" stroke="#fff" stroke-width="0.3" textLength="29.2" lengthAdjust="spacingAndGlyphs">2,041</text>
<path d="M1681,509.0h41a2,2 0 0 1 2,2v13a2,2 0 0 1 -2,2h-41z" fill="#2962ff"/>
<text x="1689.2" y="521.3" font-family="Liberation Sans, DejaVu Sans, sans-serif" font-size="12" fill="#fff" stroke="#fff" stroke-width="0.3" textLength="29.2" lengthAdjust="spacingAndGlyphs">1,709</text>
<path d="M1681,720h59a2,2 0 0 1 2,2v13a2,2 0 0 1 -2,2h-59z" fill="#22ab94"/>
<text x="1688.5" y="732.4" font-family="Liberation Sans, DejaVu Sans, sans-serif" font-size="12" fill="#fff" stroke="#fff" stroke-width="0.3" textLength="48.3" lengthAdjust="spacingAndGlyphs">82.959M</text>
<g font-family="Liberation Sans, DejaVu Sans, sans-serif" font-size="12" fill="#131722" text-anchor="middle">
<text x="77.5" y="769" direction="rtl" textLength="33.3" lengthAdjust="spacingAndGlyphs">شهریور</text>
<text x="162.5" y="769" direction="rtl" textLength="50.9" lengthAdjust="spacingAndGlyphs">22 شهریور</text>
<text x="248.5" y="769" direction="rtl" textLength="50.4" lengthAdjust="spacingAndGlyphs">30 شهریور</text>
<text x="361.5" y="769" direction="rtl" textLength="17.1" lengthAdjust="spacingAndGlyphs">مهر</text>
<text x="446.5" y="769" direction="rtl" textLength="34.4" lengthAdjust="spacingAndGlyphs">19 مهر</text>
<text x="531.5" y="769" direction="rtl" textLength="34.4" lengthAdjust="spacingAndGlyphs">27 مهر</text>
<text x="659.5" y="769" direction="rtl" textLength="18.8" lengthAdjust="spacingAndGlyphs">آبان</text>
<text x="744.5" y="769" direction="rtl" textLength="36.0" lengthAdjust="spacingAndGlyphs">18 آبان</text>
<text x="829.5" y="769" direction="rtl" textLength="36.2" lengthAdjust="spacingAndGlyphs">26 آبان</text>
<text x="957.5" y="769" direction="rtl" textLength="14.6" lengthAdjust="spacingAndGlyphs">آذر</text>
<text x="1042.5" y="769" direction="rtl" textLength="30.6" lengthAdjust="spacingAndGlyphs">18 آذر</text>
<text x="1127.5" y="769" direction="rtl" textLength="30.6" lengthAdjust="spacingAndGlyphs">26 آذر</text>
<text x="1283.5" y="769" font-weight="bold" direction="rtl" textLength="27.1" lengthAdjust="spacingAndGlyphs">1404</text>
<text x="1368.5" y="769" direction="rtl" textLength="32.1" lengthAdjust="spacingAndGlyphs">22 دی</text>
<text x="1453.5" y="769" direction="rtl" textLength="41.9" lengthAdjust="spacingAndGlyphs">01 بهمن</text>
<text x="1553.5" y="769" direction="rtl" textLength="25.4" lengthAdjust="spacingAndGlyphs">بهمن</text>
<text x="1638.5" y="769" direction="rtl" textLength="45.4" lengthAdjust="spacingAndGlyphs">02 اسفند</text>
</g>
<g font-family="Liberation Sans, DejaVu Sans, sans-serif" font-size="12" fill="#131722">
<text x="18" y="28" textLength="51.2" lengthAdjust="spacingAndGlyphs">کگل, بورس</text>
<text x="88.3" y="28" text-anchor="end" textLength="10.6" lengthAdjust="spacingAndGlyphs">باز</text>
<text x="88.5" y="28" fill="#089981" textLength="29.2" lengthAdjust="spacingAndGlyphs">2,039</text>
<text x="165.2" y="28" text-anchor="end" textLength="40.2" lengthAdjust="spacingAndGlyphs">بیشترین</text>
<text x="165.6" y="28" fill="#089981" textLength="29.2" lengthAdjust="spacingAndGlyphs">2,073</text>
<text x="236.2" y="28" text-anchor="end" textLength="34.5" lengthAdjust="spacingAndGlyphs">کمترین</text>
<text x="236.5" y="28" fill="#089981" textLength="29.2" lengthAdjust="spacingAndGlyphs">2,039</text>
<text x="302" y="28" text-anchor="end" textLength="29.4" lengthAdjust="spacingAndGlyphs">آخرین</text>
<text x="302.3" y="28" fill="#089981" textLength="29.2" lengthAdjust="spacingAndGlyphs">2,041</text>
<text x="42.2" y="45" text-anchor="end" textLength="24.2" lengthAdjust="spacingAndGlyphs">حجم</text>
<text x="50" y="45" fill="#22ab94" textLength="47.6" lengthAdjust="spacingAndGlyphs">82.959M</text>
<text x="18" y="62" textLength="18" lengthAdjust="spacingAndGlyphs">MA</text>
<text x="43.4" y="62" fill="#2196f3" textLength="29.2" lengthAdjust="spacingAndGlyphs">2,361</text>
<text x="18" y="79" textLength="48.6" lengthAdjust="spacingAndGlyphs">Ichimoku</text>
<text x="74" y="79" fill="#a5d6a7" textLength="29.2" lengthAdjust="spacingAndGlyphs">2,262</text>
<text x="110.7" y="79" fill="#faa1a4" textLength="29.2" lengthAdjust="spacingAndGlyphs">2,312</text>
</g>
</svg>
</body></html>
